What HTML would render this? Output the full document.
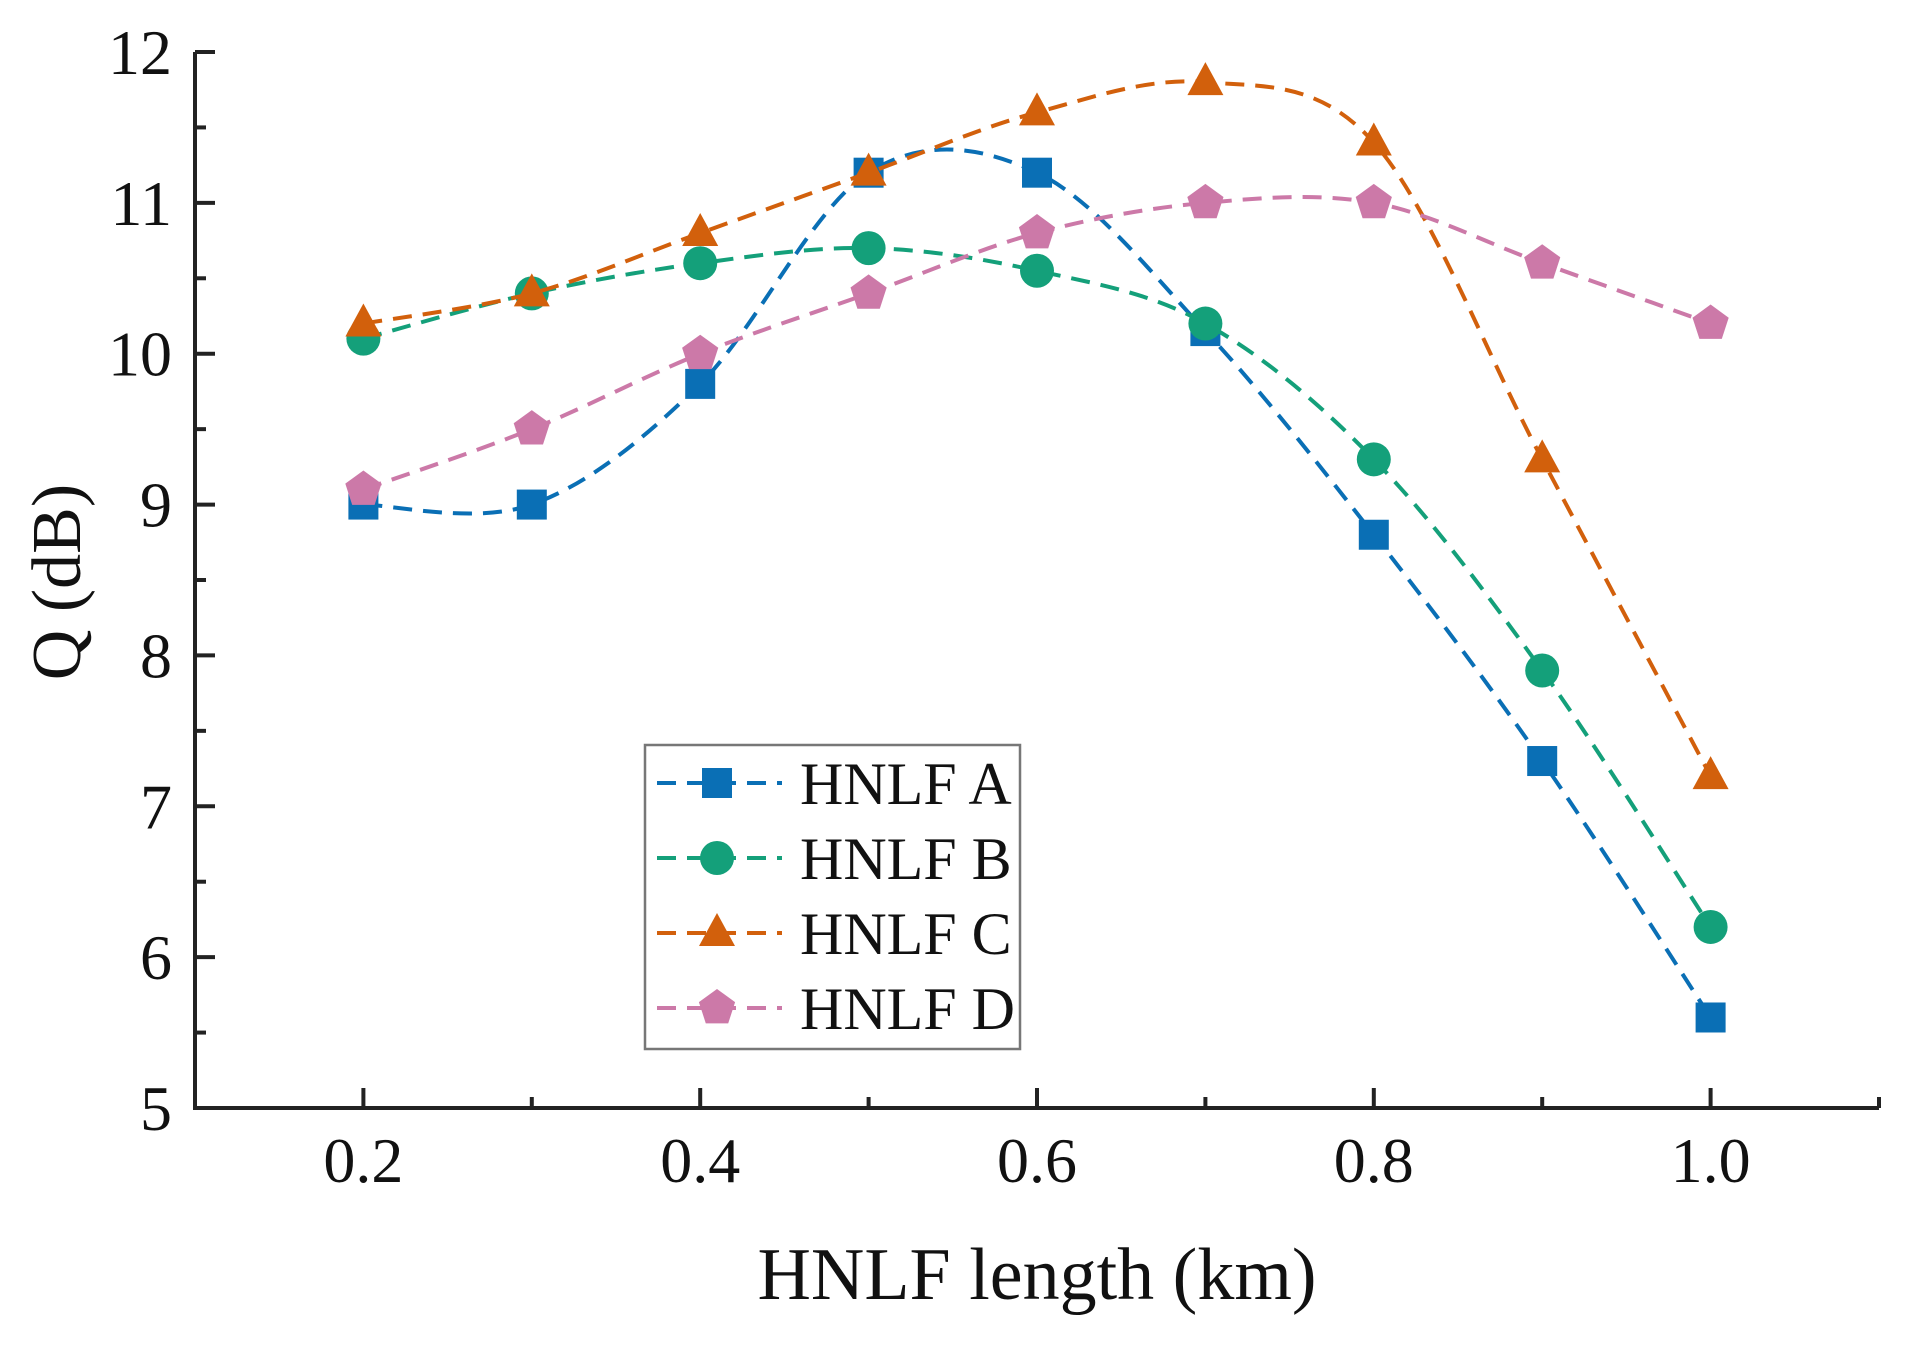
<!DOCTYPE html>
<html><head><meta charset="utf-8"><style>
html,body{margin:0;padding:0;background:#fff;}
svg{display:block;font-family:"Liberation Serif",serif;}
</style></head><body>
<svg id="chart" width="1913" height="1346" viewBox="0 0 1913 1346" xmlns="http://www.w3.org/2000/svg">
<g id="plot"></g>
</svg>
<script>
const categories = [0.2,0.3,0.4,0.5,0.6,0.7,0.8,0.9,1.0];
const seriesA = [9.0,9.0,9.8,11.2,11.2,10.15,8.8,7.3,5.6];
const seriesB = [10.1,10.4,10.6,10.7,10.55,10.2,9.3,7.9,6.2];
const seriesC = [10.2,10.4,10.8,11.2,11.6,11.8,11.4,9.3,7.2];
const seriesD = [9.1,9.5,10.0,10.4,10.8,11.0,11.0,10.6,10.2];
const seriesNames = ["HNLF A","HNLF B","HNLF C","HNLF D"];
const xTickLabels = ["0.2","0.4","0.6","0.8","1.0"];
const yTickLabels = ["5","6","7","8","9","10","11","12"];

const NS="http://www.w3.org/2000/svg";
const L=195,R=1879,T=52,B=1108;
const xMin=0.1,xMax=1.1,yMin=5,yMax=12;
const xs=v=>L+(v-xMin)/(xMax-xMin)*(R-L);
const ys=v=>B-(v-yMin)/(yMax-yMin)*(B-T);
const svg=document.getElementById('chart');
function mk(tag,attrs,parent){const e=document.createElementNS(NS,tag);for(const k in attrs)e.setAttribute(k,attrs[k]);(parent||svg).appendChild(e);return e;}

const axes=mk('path',{d:`M${L},${T} L${L},${B} L${R},${B}`,fill:'none',stroke:'#222','stroke-width':4});


for(let v=yMin;v<=yMax+1e-9;v+=0.5){
  const major=Math.abs(v-Math.round(v))<1e-9;
  const t=mk('line',{x1:L,x2:L+(major?20:11),y1:ys(v),y2:ys(v),stroke:'#222','stroke-width':4});
  
  
}
yTickLabels.forEach(s=>{
  const t=mk('text',{x:172,y:ys(+s)+22,'text-anchor':'end','font-size':64,fill:'#111'});
  t.textContent=s;
  
  
});
for(let i=1;i<=11;i++){
  const v=i/10;
  const major=(i%2===0)&&i<=10;
  const t=mk('line',{x1:xs(v),x2:xs(v),y1:B,y2:B-(major?20:11),stroke:'#222','stroke-width':4});
  
  
}
xTickLabels.forEach(s=>{
  const t=mk('text',{x:xs(+s),y:1182,'text-anchor':'middle','font-size':64,fill:'#111'});
  t.textContent=s;
  
  
});
const xt=mk('text',{x:1037,y:1299,'text-anchor':'middle','font-size':74,fill:'#111'});
xt.textContent='HNLF length (km)';


const yt=mk('text',{x:0,y:0,'text-anchor':'middle','font-size':70,fill:'#111',transform:'translate(80,582) rotate(-90)'});
yt.textContent='Q (dB)';



const colors=['#0a6fb5','#14a07a','#d2600c','#cc79a8'];
const shapes=['square','circle','triangle','pentagon'];
function marker(shape,cx,cy,col,parent){
  if(shape==='square') return mk('rect',{x:cx-15,y:cy-15,width:30,height:30,fill:col},parent);
  if(shape==='circle') return mk('circle',{cx,cy,r:17,fill:col},parent);
  if(shape==='triangle') return mk('polygon',{points:`${cx},${cy-20} ${cx+18},${cy+13} ${cx-18},${cy+13}`,fill:col},parent);
  let p=[];for(let k=0;k<5;k++){const a=-Math.PI/2+k*2*Math.PI/5;p.push((cx+19*Math.cos(a)).toFixed(1)+','+(cy+19*Math.sin(a)).toFixed(1));}
  return mk('polygon',{points:p.join(' '),fill:col},parent);
}
function spline(pts){
  let d=`M${pts[0][0]},${pts[0][1]}`;
  for(let i=0;i<pts.length-1;i++){
    const p0=pts[Math.max(0,i-1)],p1=pts[i],p2=pts[i+1],p3=pts[Math.min(pts.length-1,i+2)];
    const c1=[p1[0]+(p2[0]-p0[0])/6,p1[1]+(p2[1]-p0[1])/6];
    const c2=[p2[0]-(p3[0]-p1[0])/6,p2[1]-(p3[1]-p1[1])/6];
    d+=` C${c1[0]},${c1[1]} ${c2[0]},${c2[1]} ${p2[0]},${p2[1]}`;
  }
  return d;
}
const allSeries=[seriesA,seriesB,seriesC,seriesD];
const keys=['a','b','c','d'];
allSeries.forEach((s,si)=>{
  const g=mk('g',{});
  
  
  const pts=categories.map((c,i)=>[xs(c),ys(s[i])]);
  const line=mk('path',{d:spline(pts),fill:'none',stroke:colors[si],'stroke-width':4,'stroke-dasharray':'19 11'},g);
  
  
  pts.forEach(p=>{
    const m=marker(shapes[si],p[0],p[1],colors[si],g);
    
    
  });
});
const lg=mk('g',{});


const box=mk('rect',{x:645,y:745,width:375,height:304,fill:'#fff',stroke:'#777','stroke-width':2.5},lg);


seriesNames.forEach((n,i)=>{
  const y=783+i*75;
  const e=mk('g',{},lg);
  
  
  mk('line',{x1:655,x2:782,y1:y,y2:y,stroke:colors[i],'stroke-width':4,'stroke-dasharray':'19 11','stroke-dashoffset':-2},e);
  marker(shapes[i],717,y,colors[i],e);
  const t=mk('text',{x:800,y:y+21,'font-size':60,fill:'#111'},e);
  t.textContent=n;
});
</script>
</body></html>
